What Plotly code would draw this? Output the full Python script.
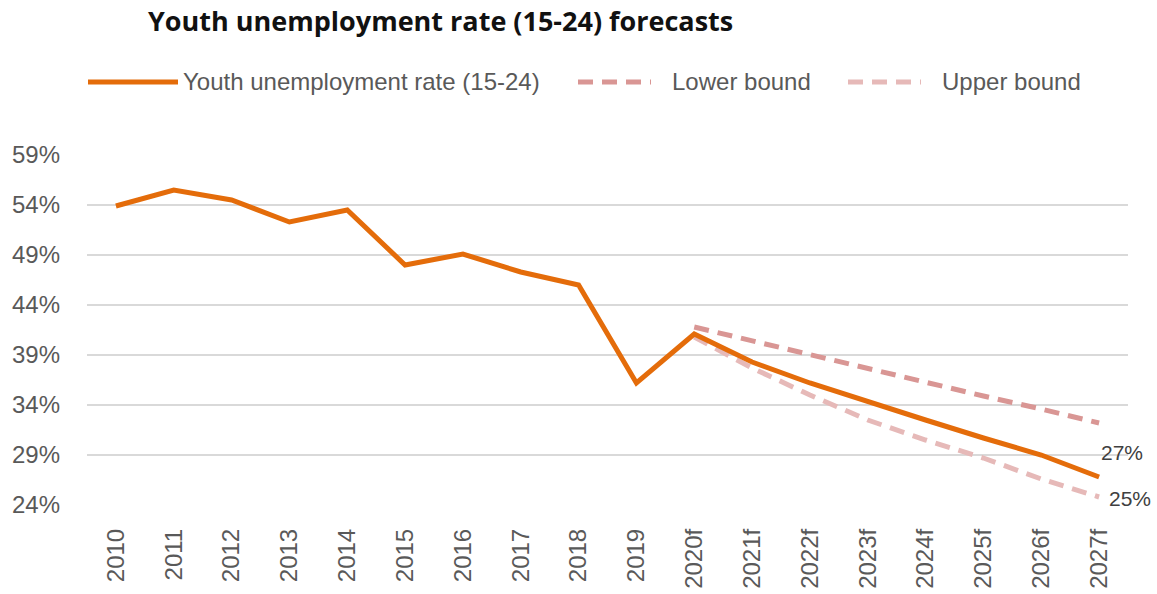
import plotly.graph_objects as go

# --- data -------------------------------------------------------------------
years = ["2010", "2011", "2012", "2013", "2014", "2015", "2016", "2017", "2018",
         "2019", "2020f", "2021f", "2022f", "2023f", "2024f", "2025f", "2026f", "2027f"]
youth_rate = [53.9, 55.5, 54.5, 52.3, 53.5, 48.0, 49.1, 47.3, 46.0,
              36.2, 41.1, 38.3, 36.2, 34.3, 32.5, 30.7, 29.0, 26.8]

fc_years = ["2020f", "2021f", "2022f", "2023f", "2024f", "2025f", "2026f", "2027f"]
lower_bound = [41.8, 40.4, 39.0, 37.7, 36.3, 34.9, 33.6, 32.2]
upper_bound = [40.8, 37.7, 35.0, 32.5, 30.5, 28.7, 26.6, 24.8]

y_ticks = [24, 29, 34, 39, 44, 49, 54, 59]

# --- style ------------------------------------------------------------------
ORANGE = "#E46C0A"
LOWER_C = "#D99694"
UPPER_C = "#E6B9B8"
GREY_TXT = "#595959"
SANS = "Liberation Sans, Arial, sans-serif"
DASH = "15px,9px"

W, H = 1157, 594
PL, PR, PT, PB = 87, 29, 155, 89
plot_w = W - PL - PR
plot_h = H - PT - PB


def px_x(px):
    return (px - PL) / plot_w


def px_y(py):
    return (H - PB - py) / plot_h


fig = go.Figure()

fig.add_trace(go.Scatter(
    x=fc_years, y=lower_bound, mode="lines", name="Lower bound",
    line=dict(color=LOWER_C, width=5, dash=DASH), showlegend=False, hoverinfo="skip",
))
fig.add_trace(go.Scatter(
    x=fc_years, y=upper_bound, mode="lines", name="Upper bound",
    line=dict(color=UPPER_C, width=5, dash=DASH), showlegend=False, hoverinfo="skip",
))
fig.add_trace(go.Scatter(
    x=years, y=youth_rate, mode="lines", name="Youth unemployment rate (15-24)",
    line=dict(color=ORANGE, width=5), showlegend=False,
))

# end labels
fig.add_annotation(x=years[-1], y=youth_rate[-1], text=f"{youth_rate[-1]:.0f}%",
                   showarrow=False, xshift=23, yshift=25,
                   font=dict(family=SANS, size=21, color="#404040"))
fig.add_annotation(x=fc_years[-1], y=upper_bound[-1], text=f"{upper_bound[-1]:.0f}%",
                   showarrow=False, xshift=31, yshift=-1,
                   font=dict(family=SANS, size=21, color="#404040"))

# hand-drawn legend (long swatches like the original)
leg_y = px_y(82)
legend_items = [
    ("Youth unemployment rate (15-24)", ORANGE, "solid", 88, 178, 181),
    ("Lower bound", LOWER_C, DASH, 578, 651, 670),
    ("Upper bound", UPPER_C, DASH, 848, 921, 940),
]
for label, col, dash, x0, x1, xt in legend_items:
    fig.add_shape(type="line", xref="paper", yref="paper",
                  x0=px_x(x0), x1=px_x(x1), y0=leg_y, y1=leg_y,
                  line=dict(color=col, width=5, dash=dash))
    fig.add_annotation(xref="paper", yref="paper", x=px_x(xt), y=leg_y,
                       xanchor="left", yanchor="middle", text=label, showarrow=False,
                       font=dict(family=SANS, size=24, color=GREY_TXT))

fig.update_layout(
    width=W, height=H,
    margin=dict(l=PL, r=PR, t=PT, b=PB),
    plot_bgcolor="white", paper_bgcolor="white",
    title=dict(text="<b>Youth unemployment rate (15-24) forecasts</b>",
               xref="container", yref="container", x=148 / W, y=1 - 22 / H,
               xanchor="left", yanchor="middle",
               font=dict(family="Open Sans, Noto Sans, sans-serif", size=27, color="#111111")),
    xaxis=dict(
        type="category", categoryarray=years, categoryorder="array",
        range=[-0.5, len(years) - 0.5],
        tickangle=-90, showgrid=False, showline=False, zeroline=False, ticks="",
        ticklabelstandoff=18, automargin=False,
        tickfont=dict(family=SANS, size=24, color=GREY_TXT),
    ),
    yaxis=dict(
        range=[24, 59], tickvals=y_ticks, ticktext=[f"{v}%" for v in y_ticks],
        showgrid=True, gridcolor="#D9D9D9", gridwidth=2, zeroline=False, showline=False,
        ticks="", ticklabelstandoff=26, automargin=False,
        tickfont=dict(family=SANS, size=24, color=GREY_TXT),
    ),
    showlegend=False,
)

fig.write_html("out.html", config={"displayModeBar": False},
               post_script="document.body.style.margin='0';")
